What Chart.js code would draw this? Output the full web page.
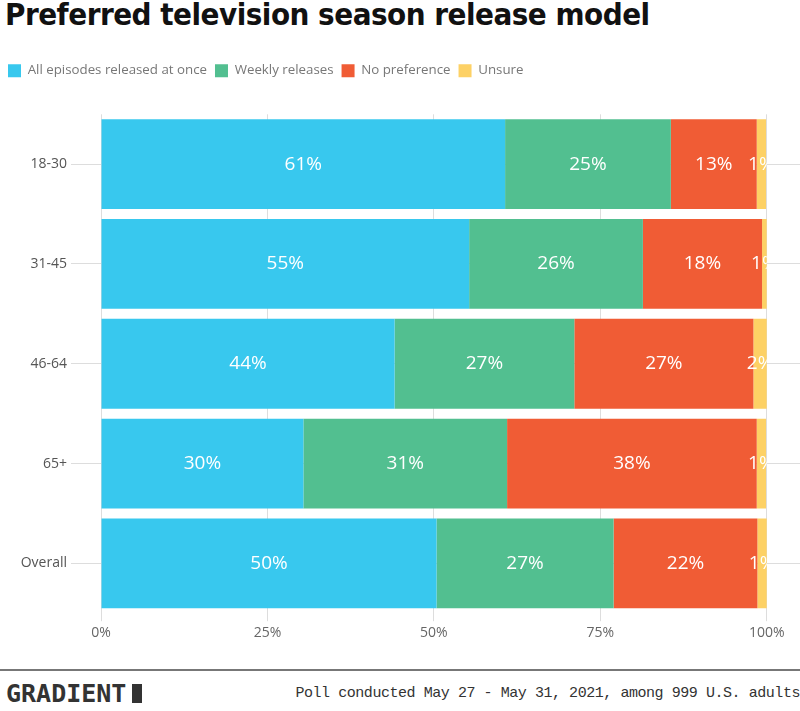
<!DOCTYPE html>
<html>
<head>
<meta charset="utf-8">
<script src="https://cdn.jsdelivr.net/npm/chart.js@4"></script>
<style>
  body { margin: 0; width: 800px; height: 711px; background: #fff; position: relative; overflow: hidden; }
  #title { position: absolute; left: 5px; top: -4px; font: bold 31px "DejaVu Sans Condensed", "Liberation Sans Narrow", sans-serif; color: #111; letter-spacing: -0.5px; }
  #wrap { position: absolute; left: 0; top: 56px; width: 800px; height: 588px; }
  #rule { position: absolute; left: 0; top: 669px; width: 800px; height: 2px; background: #777; }
  #logo { position: absolute; left: 6px; top: 679px; font: bold 25px "DejaVu Sans Mono", monospace; color: #333; }
  #logo span { display: inline-block; width: 10px; height: 19px; background: #333; margin-left: 6px; vertical-align: -1px; }
  #note { position: absolute; right: 0; top: 685px; font: 15px "Liberation Mono", monospace; color: #333; letter-spacing: -0.45px; }
</style>
</head>
<body>
<div id="title">Preferred television season release model</div>
<div id="wrap"><canvas id="chart"></canvas></div>
<div id="rule"></div>
<div id="logo">GRADIENT<span></span></div>
<div id="note">Poll conducted May 27 - May 31, 2021, among 999 U.S. adults</div>
<script>
const ageGroups = ['18-30', '31-45', '46-64', '65+', 'Overall'];
const seriesNames = ['All episodes released at once', 'Weekly releases', 'No preference', 'Unsure'];
const allAtOnce = [60.7, 55.3, 44.1, 30.4, 50.4];
const weekly = [24.9, 26.1, 27.0, 30.6, 26.6];
const noPreference = [12.9, 17.9, 26.9, 37.5, 21.6];
const unsure = [1.4, 0.7, 2.0, 1.4, 1.4];
const xTicks = [0, 25, 50, 75, 100];

const seriesColors = ['#38c8ee', '#52bf90', '#f05c35', '#fdd165'];
const seriesValues = [allAtOnce, weekly, noPreference, unsure];

const legendGap = {
  id: 'legendGap',
  beforeInit(chart) {
    const fit = chart.legend.fit;
    chart.legend.fit = function fitWithGap() {
      fit.bind(chart.legend)();
      this.height += 27;
    };
  },
};

const labelPlugin = {
  id: 'barLabels',
  afterDatasetsDraw(chart) {
    const { ctx, chartArea, scales } = chart;
    const right = scales.x.getPixelForValue(100);
    ctx.save();
    ctx.beginPath();
    ctx.rect(chartArea.left, chartArea.top, right - chartArea.left, chartArea.bottom - chartArea.top);
    ctx.clip();
    ctx.font = '19px "Open Sans", sans-serif';
    ctx.fillStyle = '#fff';
    ctx.textAlign = 'center';
    ctx.textBaseline = 'middle';
    chart.data.datasets.forEach((ds, i) => {
      chart.getDatasetMeta(i).data.forEach((bar, j) => {
        const x = (bar.x + bar.base) / 2;
        ctx.fillText(Math.round(ds.data[j]) + '%', x, bar.y);
      });
    });
    ctx.restore();
  },
};

new Chart(document.getElementById('chart'), {
  type: 'bar',
  data: {
    labels: ageGroups,
    datasets: seriesNames.map((name, i) => ({
      label: name,
      data: seriesValues[i],
      backgroundColor: seriesColors[i],
      barPercentage: 0.9,
      categoryPercentage: 1,
    })),
  },
  options: {
    indexAxis: 'y',
    responsive: true,
    maintainAspectRatio: false,
    animation: false,
    layout: { padding: 0 },
    plugins: {
      legend: {
        position: 'top',
        align: 'start',
        labels: {
          boxWidth: 13,
          boxHeight: 13,
          padding: 8,
          color: '#777',
          font: { size: 13.3, family: '"Open Sans", sans-serif' },
        },
      },
      tooltip: { enabled: false },
    },
    scales: {
      x: {
        stacked: true,
        min: 0,
        max: 105,
        afterBuildTicks: (axis) => {
          axis.ticks = xTicks.map((v) => ({ value: v }));
        },
        grid: { color: '#ddd', tickLength: 8 },
        border: { display: false },
        ticks: {
          color: '#666',
          padding: 3,
          font: { size: 14, family: '"Open Sans", sans-serif' },
          callback: (v) => v + '%',
        },
      },
      y: {
        stacked: true,
        afterFit: (axis) => {
          axis.width = 101;
        },
        grid: { color: '#ddd', tickLength: 30, offset: false },
        border: { display: false },
        ticks: {
          color: '#555',
          padding: 4,
          font: { size: 14, family: '"Open Sans", sans-serif' },
        },
      },
    },
  },
  plugins: [legendGap, labelPlugin],
});
</script>
</body>
</html>
